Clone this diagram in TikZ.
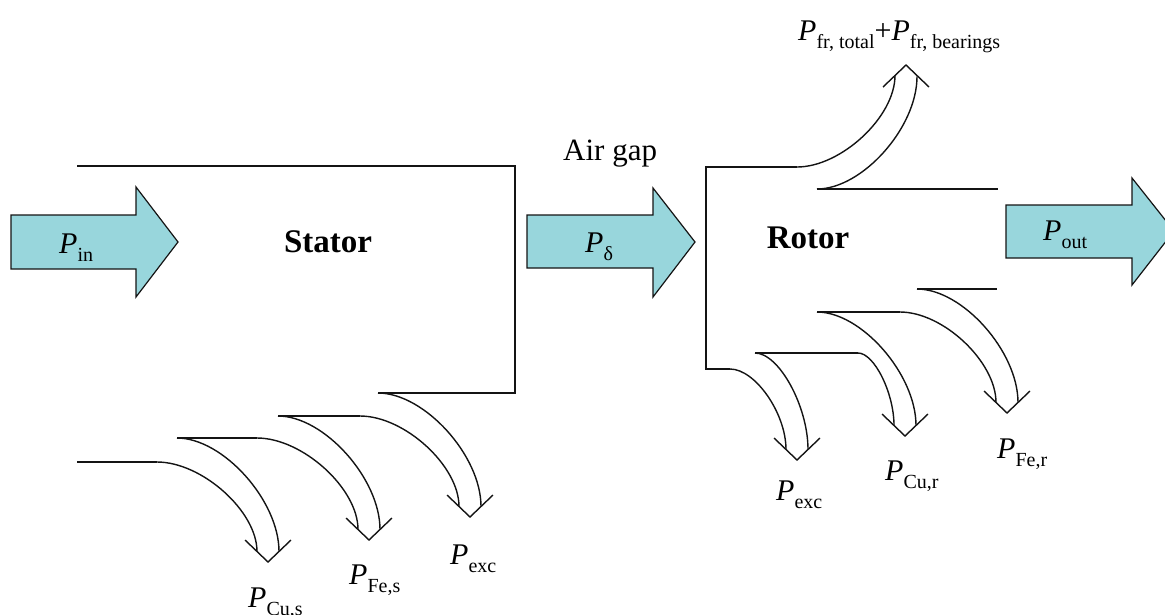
\documentclass[tikz,border=0pt]{standalone}
\usepackage{fontspec}
\setmainfont{Liberation Serif}
\definecolor{flowfill}{RGB}{152,214,220}
\definecolor{inkline}{RGB}{20,20,20}

% power symbol with an upright subscript
\newcommand\Pl[1]{\textit{P}\raisebox{-8pt}{\fontsize{20}{24}\selectfont #1}}

% hollow bent loss arrow turning downwards:
% #1,#2 start of outer edge, #3,#4 start of inner edge, #5,#6 tip of the head
\newcommand\downloss[6]{%
  \draw[lossline] (#1,#2) .. controls ({#1+0.45*(#5+11-#1)},#2) and ({#5+11},{#6-10.5-0.45*(#6-10.5-#2)}) .. ({#5+11},{#6-10.5});
  \draw[lossline] (#3,#4) .. controls ({#3+0.45*(#5-11-#3)},#4) and ({#5-11},{#6-10.5-0.45*(#6-10.5-#4)}) .. ({#5-11},{#6-10.5});
  \draw[lossline] ({#5-23},{#6-22}) -- (#5,#6) -- ({#5+23},{#6-22});
}

\begin{document}
\begin{tikzpicture}[x=1pt,y=-1pt,
    font=\fontsize{30}{36}\selectfont,
    wall/.style={draw=inkline,line width=1.4pt},
    lossline/.style={draw=inkline,line width=1.4pt},
    flow/.style={draw=inkline,line width=1.2pt,fill=flowfill,line join=miter},
    part/.style={font=\fontsize{33}{40}\selectfont\bfseries},
    lbl/.style={anchor=base west,inner sep=0pt}]
\useasboundingbox (0,0) rectangle (1165,614);
\clip (0,0) rectangle (1165,614);

% ---------- power flow arrows ----------
\draw[flow] (11,215) -- (136,215) -- (136,187) -- (178,242) -- (136,297) -- (136,269) -- (11,269) -- cycle;
\draw[flow] (527,215) -- (653,215) -- (653,188) -- (695,242) -- (653,297) -- (653,268) -- (527,268) -- cycle;
\draw[flow] (1006,205) -- (1132,205) -- (1132,178) -- (1174,231) -- (1132,285) -- (1132,258) -- (1006,258) -- cycle;

\node[lbl] (pin) at (59,253) {\Pl{in}};
\node[lbl] (pdelta) at (585,252) {\Pl{δ}};
\node[lbl] (pout) at (1043,240) {\Pl{out}};

% ---------- stator ----------
\node[part] (stator) at (328,242) {Stator};
\draw[wall] (77,166) -- (515,166) -- (515,393) -- (378,393);
\draw[wall] (278,416) -- (360,416);
\draw[wall] (177,438) -- (257,438);
\draw[wall] (77,462) -- (157,462);

\downloss{378}{393}{360}{416}{470}{517}
\downloss{278}{416}{257}{438}{369}{540}
\downloss{177}{438}{157}{462}{268}{562}

\node[lbl] (pexcs) at (450,564) {\Pl{exc}};
\node[lbl] (pfes) at (349,584) {\Pl{Fe,s}};
\node[lbl] (pcus) at (248,607) {\Pl{Cu,s}};

% ---------- air gap ----------
\node[lbl,font=\fontsize{31}{36}\selectfont] (airgap) at (563,160) {Air gap};

% ---------- rotor ----------
\node[part] (rotor) at (808,238) {Rotor};
\draw[wall] (797,167) -- (706,167) -- (706,369) -- (730,369);
\draw[wall] (817,189) -- (998,189);
\draw[wall] (917,289) -- (997,289);
\draw[wall] (817,312) -- (900,312);
\draw[wall] (755,353) -- (858,353);

% friction losses, bending upwards
\draw[lossline] (797,167) .. controls (841,167) and (895,117) .. (895,75.5);
\draw[lossline] (817,189) .. controls (862,189) and (917,128) .. (917,76.5);
\draw[lossline] (883,87) -- (906,65) -- (929,87);
\node[lbl] (pfr) at (798,40) {\Pl{fr, total}+\Pl{fr, bearings}};

\downloss{917}{289}{900}{312}{1007}{413}
\downloss{817}{312}{858}{353}{905}{436}
\downloss{755}{353}{730}{369}{797}{460}

\node[lbl] (pexcr) at (776,500) {\Pl{exc}};
\node[lbl] (pcur) at (885,480) {\Pl{Cu,r}};
\node[lbl] (pfer) at (997,458) {\Pl{Fe,r}};
\end{tikzpicture}
\end{document}
